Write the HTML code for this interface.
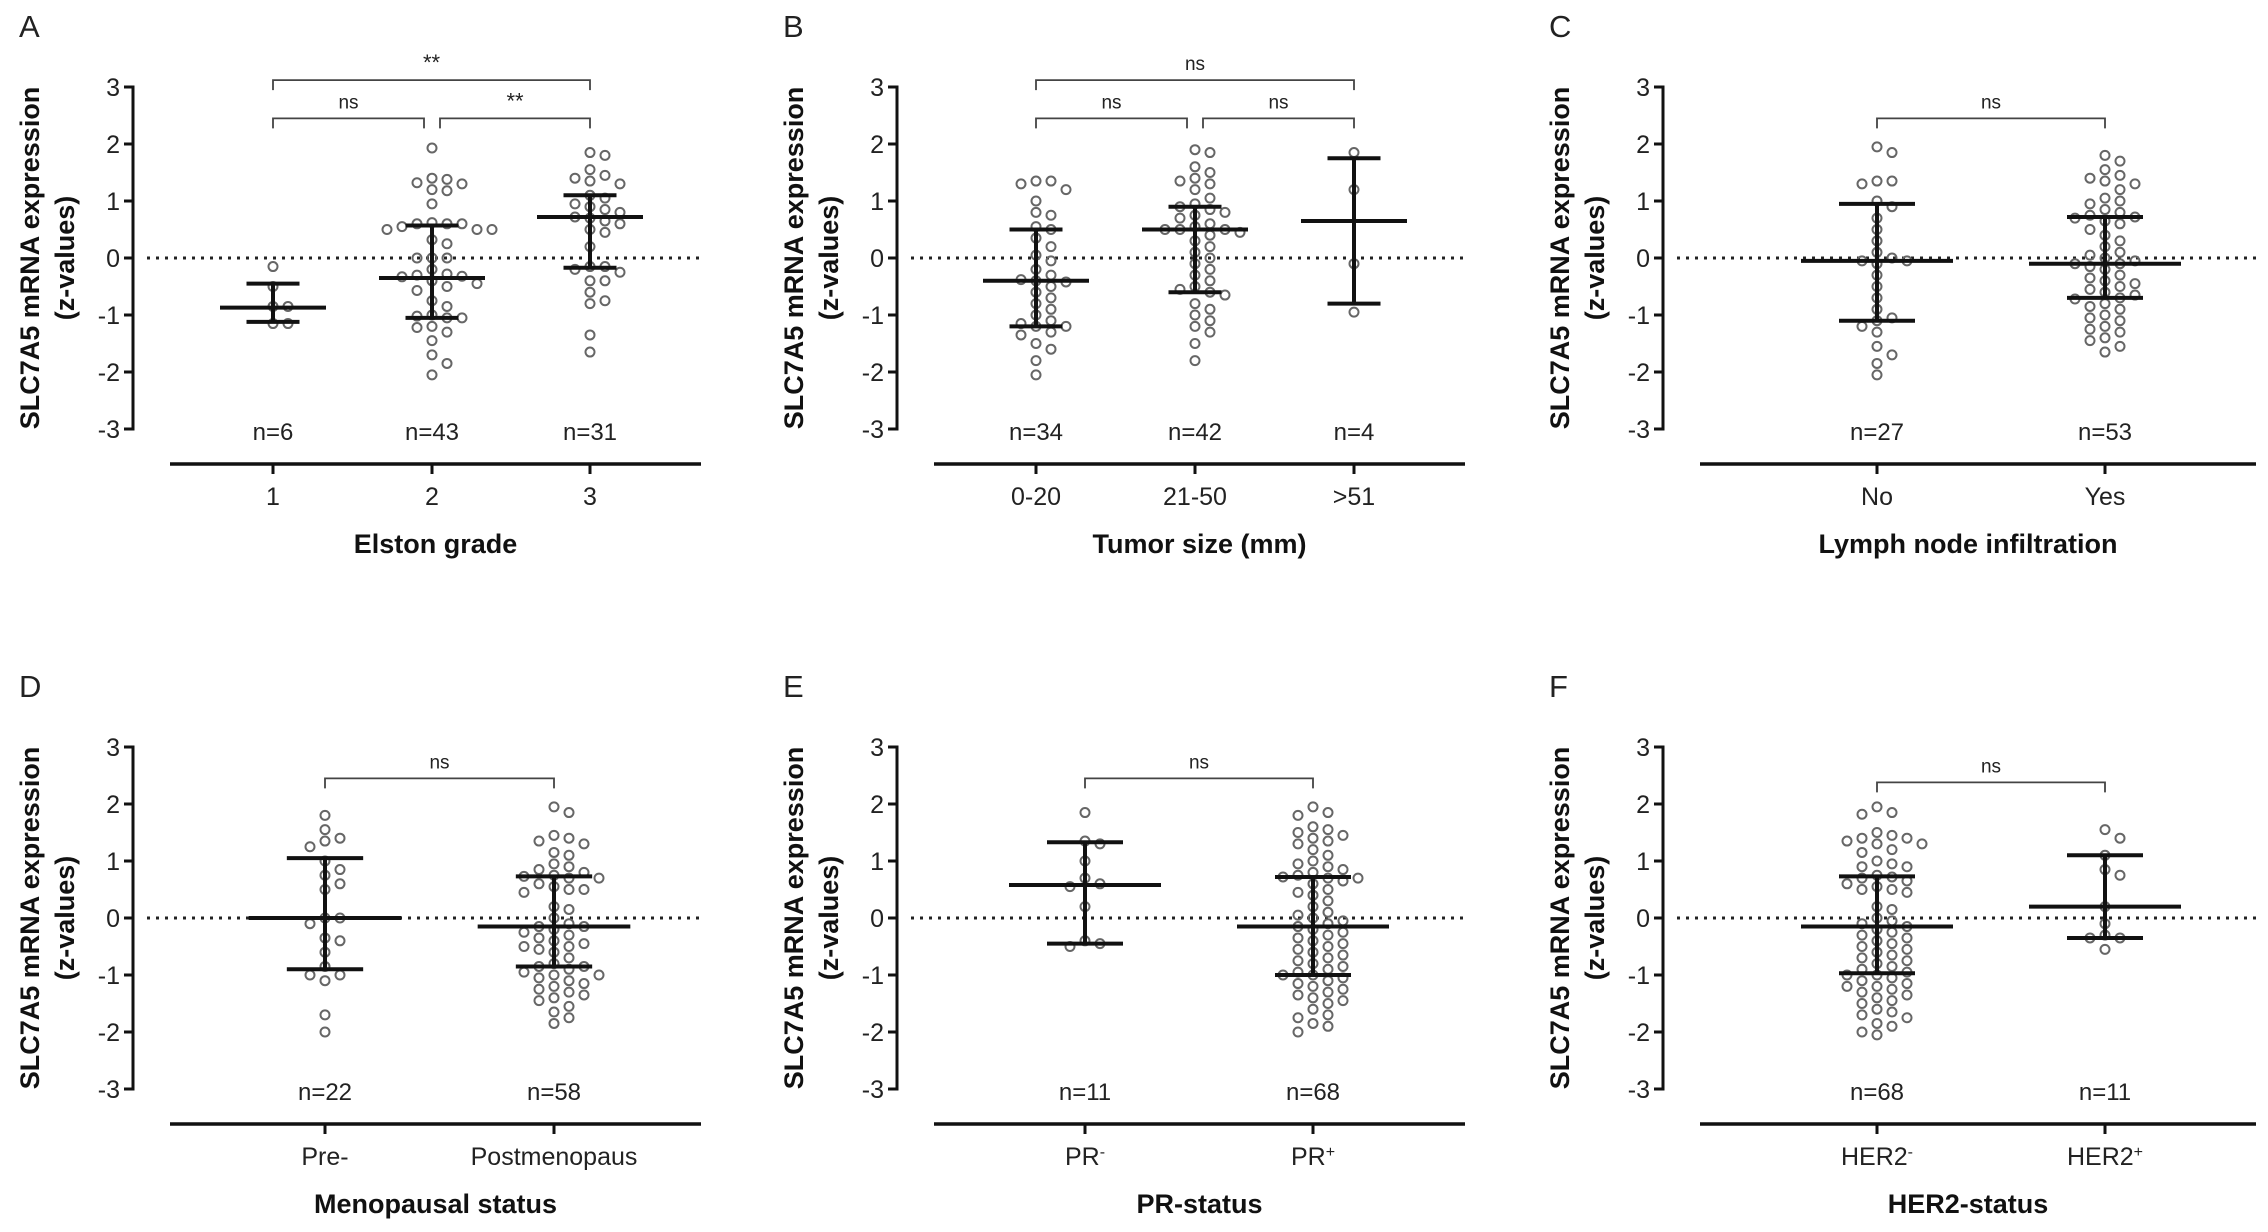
<!DOCTYPE html>
<html><head><meta charset="utf-8"><style>
html,body{margin:0;padding:0;background:#fff;}
svg{display:block;font-family:"Liberation Sans",Arial,sans-serif;}
</style></head><body>
<svg id="fig" width="2268" height="1232" viewBox="0 0 2268 1232"></svg>
<script>
// ---- data ----
const panelALabels = ["1","2","3"];
const panelACounts = ["n=6","n=43","n=31"];
const panelAG1 = [-0.15,-0.5,-0.85,-0.85,-1.15,-1.15];
const panelAG2 = [1.93,1.38,1.32,1.4,1.3,1.2,1.18,0.95,0.62,0.6,0.6,0.6,0.5,0.5,0.55,0.5,0.32,0.25,0,0,0,-0.2,-0.28,-0.3,-0.32,-0.33,-0.4,-0.45,-0.5,-0.57,-0.75,-0.85,-1.0,-1.02,-1.05,-1.05,-1.2,-1.22,-1.3,-1.45,-1.7,-1.85,-2.05];
const panelAG3 = [1.85,1.8,1.55,1.45,1.4,1.35,1.3,1.1,1.05,0.95,0.9,0.85,0.8,0.72,0.7,0.65,0.6,0.5,0.45,0.2,-0.15,-0.15,-0.2,-0.25,-0.4,-0.4,-0.6,-0.75,-0.8,-1.35,-1.65];
const panelAMedian = [-0.87,-0.35,0.72];
const panelAQ3 = [-0.45,0.57,1.1];
const panelAQ1 = [-1.12,-1.05,-0.17];

const panelBLabels = ["0-20","21-50",">51"];
const panelBCounts = ["n=34","n=42","n=4"];
const panelBG1 = [1.35,1.35,1.3,1.2,1.0,0.8,0.75,0.55,0.5,0.35,0.2,0.05,-0.05,-0.2,-0.3,-0.38,-0.4,-0.42,-0.5,-0.6,-0.7,-0.8,-0.9,-1.0,-1.1,-1.15,-1.2,-1.2,-1.3,-1.35,-1.5,-1.6,-1.8,-2.05];
const panelBG2 = [1.9,1.85,1.6,1.5,1.4,1.35,1.3,1.2,1.05,0.95,0.9,0.85,0.8,0.75,0.7,0.6,0.55,0.5,0.5,0.5,0.45,0.4,0.3,0.2,0.1,0.0,-0.1,-0.2,-0.3,-0.4,-0.5,-0.55,-0.6,-0.65,-0.8,-0.9,-1.0,-1.1,-1.2,-1.3,-1.5,-1.8];
const panelBG3 = [1.85,1.2,-0.1,-0.95];
const panelBMedian = [-0.4,0.5,0.65];
const panelBQ3 = [0.5,0.9,1.75];
const panelBQ1 = [-1.2,-0.6,-0.8];

const panelCLabels = ["No","Yes"];
const panelCCounts = ["n=27","n=53"];
const panelCG1 = [1.95,1.85,1.35,1.35,1.3,1.0,0.9,0.7,0.5,0.3,0.1,0.0,-0.05,-0.05,-0.1,-0.3,-0.5,-0.7,-0.9,-1.05,-1.1,-1.2,-1.3,-1.55,-1.7,-1.85,-2.05];
const panelCG2 = [1.8,1.7,1.55,1.45,1.4,1.35,1.3,1.2,1.05,1.0,0.95,0.85,0.8,0.75,0.72,0.7,0.65,0.6,0.5,0.4,0.3,0.2,0.1,0.05,0.0,-0.05,-0.1,-0.1,-0.15,-0.2,-0.3,-0.35,-0.4,-0.45,-0.5,-0.55,-0.6,-0.65,-0.7,-0.72,-0.8,-0.85,-0.9,-1.0,-1.05,-1.1,-1.2,-1.25,-1.3,-1.4,-1.45,-1.55,-1.65];
const panelCMedian = [-0.05,-0.1];
const panelCQ3 = [0.95,0.72];
const panelCQ1 = [-1.1,-0.7];

const panelDLabels = ["Pre-","Postmenopaus"];
const panelDCounts = ["n=22","n=58"];
const panelDG1 = [1.8,1.55,1.4,1.35,1.25,1.0,0.85,0.75,0.6,0.5,0.0,0.0,-0.1,-0.35,-0.4,-0.6,-0.85,-1.0,-1.0,-1.1,-1.7,-2.0];
const panelDG2 = [1.95,1.85,1.45,1.4,1.35,1.3,1.15,1.1,0.95,0.9,0.85,0.8,0.75,0.73,0.7,0.7,0.6,0.55,0.5,0.5,0.45,0.2,0.15,0.0,-0.1,-0.15,-0.15,-0.2,-0.25,-0.3,-0.35,-0.4,-0.45,-0.5,-0.5,-0.55,-0.6,-0.7,-0.8,-0.85,-0.85,-0.9,-1.0,-1.0,-1.05,-1.1,-1.15,-1.2,-1.25,-1.3,-1.35,-1.4,-1.45,-1.55,-1.65,-1.75,-1.85,-0.95];
const panelDMedian = [0.0,-0.15];
const panelDQ3 = [1.05,0.73];
const panelDQ1 = [-0.9,-0.85];

const panelELabels = ["PR","PR"];
const panelESup = ["-","+"];
const panelECounts = ["n=11","n=68"];
const panelEG1 = [1.85,1.35,1.3,1.0,0.7,0.6,0.55,0.2,-0.4,-0.45,-0.5];
const panelEG2 = [1.95,1.85,1.8,1.6,1.55,1.5,1.45,1.4,1.35,1.3,1.2,1.1,1.0,0.95,0.9,0.85,0.8,0.75,0.72,0.7,0.7,0.65,0.6,0.5,0.45,0.4,0.3,0.2,0.1,0.05,0.0,-0.05,-0.1,-0.15,-0.2,-0.25,-0.3,-0.35,-0.4,-0.45,-0.5,-0.55,-0.6,-0.65,-0.7,-0.75,-0.8,-0.85,-0.9,-0.95,-1.0,-1.0,-1.05,-1.1,-1.15,-1.2,-1.25,-1.3,-1.35,-1.4,-1.45,-1.5,-1.6,-1.7,-1.75,-1.85,-1.9,-2.0];
const panelEMedian = [0.58,-0.15];
const panelEQ3 = [1.33,0.72];
const panelEQ1 = [-0.45,-1.0];

const panelFLabels = ["HER2","HER2"];
const panelFSup = ["-","+"];
const panelFCounts = ["n=68","n=11"];
const panelFG1 = [1.95,1.85,1.82,1.5,1.45,1.4,1.4,1.35,1.3,1.3,1.2,1.15,1.0,0.95,0.9,0.9,0.75,0.72,0.7,0.65,0.6,0.55,0.5,0.5,0.45,0.2,0.15,0.0,-0.05,-0.1,-0.15,-0.2,-0.25,-0.3,-0.35,-0.4,-0.45,-0.5,-0.55,-0.6,-0.65,-0.7,-0.75,-0.8,-0.85,-0.9,-0.95,-1.0,-1.0,-1.05,-1.1,-1.15,-1.2,-1.2,-1.25,-1.3,-1.35,-1.4,-1.45,-1.5,-1.6,-1.65,-1.7,-1.75,-1.85,-1.9,-2.0,-2.05];
const panelFG2 = [1.55,1.4,1.1,0.85,0.75,0.2,-0.1,-0.3,-0.35,-0.35,-0.55];
const panelFMedian = [-0.15,0.2];
const panelFQ3 = [0.73,1.1];
const panelFQ1 = [-0.97,-0.35];

const yTicks = [3,2,1,0,-1,-2,-3];

// ---- layout ----
const NS = "http://www.w3.org/2000/svg";
const svg = document.getElementById('fig');
function mk(tag, attrs, parent){
  const e = document.createElementNS(NS, tag);
  for (const k in attrs) e.setAttribute(k, attrs[k]);
  (parent||svg).appendChild(e);
  return e;
}
const UNIT = 57;

const panels = [
  {key:"a",letter:"A",ax:133,top:87,xend:701,cats:[140,299,457],labels:panelALabels,counts:panelACounts,groups:[panelAG1,panelAG2,panelAG3],med:panelAMedian,q3:panelAQ3,q1:panelAQ1,title:"Elston grade",
   brackets:[[0,1,2.45,"ns",0,-8],[1,2,2.45,"**",8,0],[0,2,3.12,"**",0,0]]},
  {key:"b",letter:"B",ax:897,top:87,xend:1465,cats:[139,298,457],labels:panelBLabels,counts:panelBCounts,groups:[panelBG1,panelBG2,panelBG3],med:panelBMedian,q3:panelBQ3,q1:panelBQ1,title:"Tumor size (mm)",
   brackets:[[0,1,2.45,"ns",0,-8],[1,2,2.45,"ns",8,0],[0,2,3.12,"ns",0,0]]},
  {key:"c",letter:"C",ax:1663,top:87,xend:2256,cats:[214,442],labels:panelCLabels,counts:panelCCounts,groups:[panelCG1,panelCG2],med:panelCMedian,q3:panelCQ3,q1:panelCQ1,title:"Lymph node infiltration",
   brackets:[[0,1,2.45,"ns",0,0]]},
  {key:"d",letter:"D",ax:133,top:747,xend:701,cats:[192,421],labels:panelDLabels,counts:panelDCounts,groups:[panelDG1,panelDG2],med:panelDMedian,q3:panelDQ3,q1:panelDQ1,title:"Menopausal status",
   brackets:[[0,1,2.45,"ns",0,0]]},
  {key:"e",letter:"E",ax:897,top:747,xend:1465,cats:[188,416],labels:panelELabels,sup:panelESup,counts:panelECounts,groups:[panelEG1,panelEG2],med:panelEMedian,q3:panelEQ3,q1:panelEQ1,title:"PR-status",
   brackets:[[0,1,2.45,"ns",0,0]]},
  {key:"f",letter:"F",ax:1663,top:747,xend:2256,cats:[214,442],labels:panelFLabels,sup:panelFSup,counts:panelFCounts,groups:[panelFG1,panelFG2],med:panelFMedian,q3:panelFQ3,q1:panelFQ1,title:"HER2-status",
   brackets:[[0,1,2.38,"ns",0,0]]}
];

panels.forEach(p=>{
  const g = mk('g',{});
  
  
  const y = v => p.top + (3 - v) * UNIT;
  const x = i => p.ax + p.cats[i];
  const xAxisY = p.top + 377;
  const spacing = p.cats[1]-p.cats[0];

  const L = mk('text',{x:p.ax-114,y:p.top-50,'font-size':31,fill:'#222'},g); L.textContent=p.letter;
   

  const cy = p.top + 3*UNIT;
  const t1 = mk('text',{x:0,y:0,'font-size':27,'font-weight':'bold','text-anchor':'middle',fill:'#111',transform:`translate(${p.ax-94},${cy}) rotate(-90)`},g);
  t1.textContent="SLC7A5 mRNA expression";
   
  const t2 = mk('text',{x:0,y:0,'font-size':27,'font-weight':'bold','text-anchor':'middle',fill:'#111',transform:`translate(${p.ax-59},${cy}) rotate(-90)`},g);
  t2.textContent="(z-values)";
   

  const ya = mk('line',{x1:p.ax,y1:y(3)-1.5,x2:p.ax,y2:y(-3)+1.5,stroke:'#111','stroke-width':3},g);
   
  yTicks.forEach(v=>{
    mk('line',{x1:p.ax-9,y1:y(v),x2:p.ax,y2:y(v),stroke:'#111','stroke-width':3},g);
    const tl = mk('text',{x:p.ax-13,y:y(v)+9,'font-size':25,'text-anchor':'end',fill:'#222'},g);
    tl.textContent = String(v);
     
  });

  const zl = mk('line',{x1:p.ax+14,y1:y(0),x2:p.xend,y2:y(0),stroke:'#222','stroke-width':3,'stroke-dasharray':'3 6'},g);
   

  const xa = mk('line',{x1:p.ax+37,y1:xAxisY,x2:p.xend,y2:xAxisY,stroke:'#111','stroke-width':3.5},g);
   
  p.labels.forEach((lab,i)=>{
    mk('line',{x1:x(i),y1:xAxisY,x2:x(i),y2:xAxisY+10,stroke:'#111','stroke-width':3},g);
    const tl = mk('text',{x:x(i),y:xAxisY+41,'font-size':25,'text-anchor':'middle',fill:'#222'},g);
    tl.textContent = lab;
    if (p.sup){
      const s = mk('tspan',{'baseline-shift':'super','font-size':16},tl);
      s.textContent = p.sup[i];
    }
     
    const nl = mk('text',{x:x(i),y:y(-3)+11,'font-size':24,'text-anchor':'middle',fill:'#222'},g);
    nl.textContent = p.counts[i];
     
  });
  const xt = mk('text',{x:(p.ax+37+p.xend)/2 + (p.key==='c'||p.key==='f'? -10:0),y:xAxisY+89,'font-size':27,'font-weight':'bold','text-anchor':'middle',fill:'#111'},g);
  xt.textContent = p.title;
   

  p.groups.forEach((vals,i)=>{
    const sorted = vals.slice().sort((a,b)=>b-a);
    const placed = [];
    sorted.forEach(v=>{
      const py = y(v);
      let off = 0;
      for (let k=0;k<40;k++){
        const cand = k===0?0:(k%2?1:-1)*Math.ceil(k/2)*15;
        const ok = placed.every(q=>Math.hypot(q[0]-cand,q[1]-py)>=11);
        if (ok){off=cand;break;}
      }
      placed.push([off,py]);
      const c = mk('circle',{cx:x(i)+off,cy:py,r:4.5,fill:'none',stroke:'#666','stroke-width':2},g);
      
      
    });
    const mw = spacing/3, qw = spacing/6;
    const m = mk('line',{x1:x(i)-mw,y1:y(p.med[i]),x2:x(i)+mw,y2:y(p.med[i]),stroke:'#111','stroke-width':4},g);
     
    const a = mk('line',{x1:x(i)-qw,y1:y(p.q3[i]),x2:x(i)+qw,y2:y(p.q3[i]),stroke:'#111','stroke-width':4},g);
     
    const b = mk('line',{x1:x(i)-qw,y1:y(p.q1[i]),x2:x(i)+qw,y2:y(p.q1[i]),stroke:'#111','stroke-width':4},g);
     
    const vl = mk('line',{x1:x(i),y1:y(p.q3[i]),x2:x(i),y2:y(p.q1[i]),stroke:'#111','stroke-width':4},g);
     
  });

  p.brackets.forEach(br=>{
    const x1 = x(br[0])+br[4], x2 = x(br[1])+br[5], by = y(br[2]);
    const path = mk('path',{d:`M${x1},${by+10} L${x1},${by} L${x2},${by} L${x2},${by+10}`,fill:'none',stroke:'#444','stroke-width':1.8},g);
     
    const st = mk('text',{x:(x1+x2)/2,y:by-10,'font-size':br[3]==='ns'?19:22,'text-anchor':'middle',fill:'#222'},g);
    st.textContent = br[3];
     
  });
});
</script>
</body></html>
